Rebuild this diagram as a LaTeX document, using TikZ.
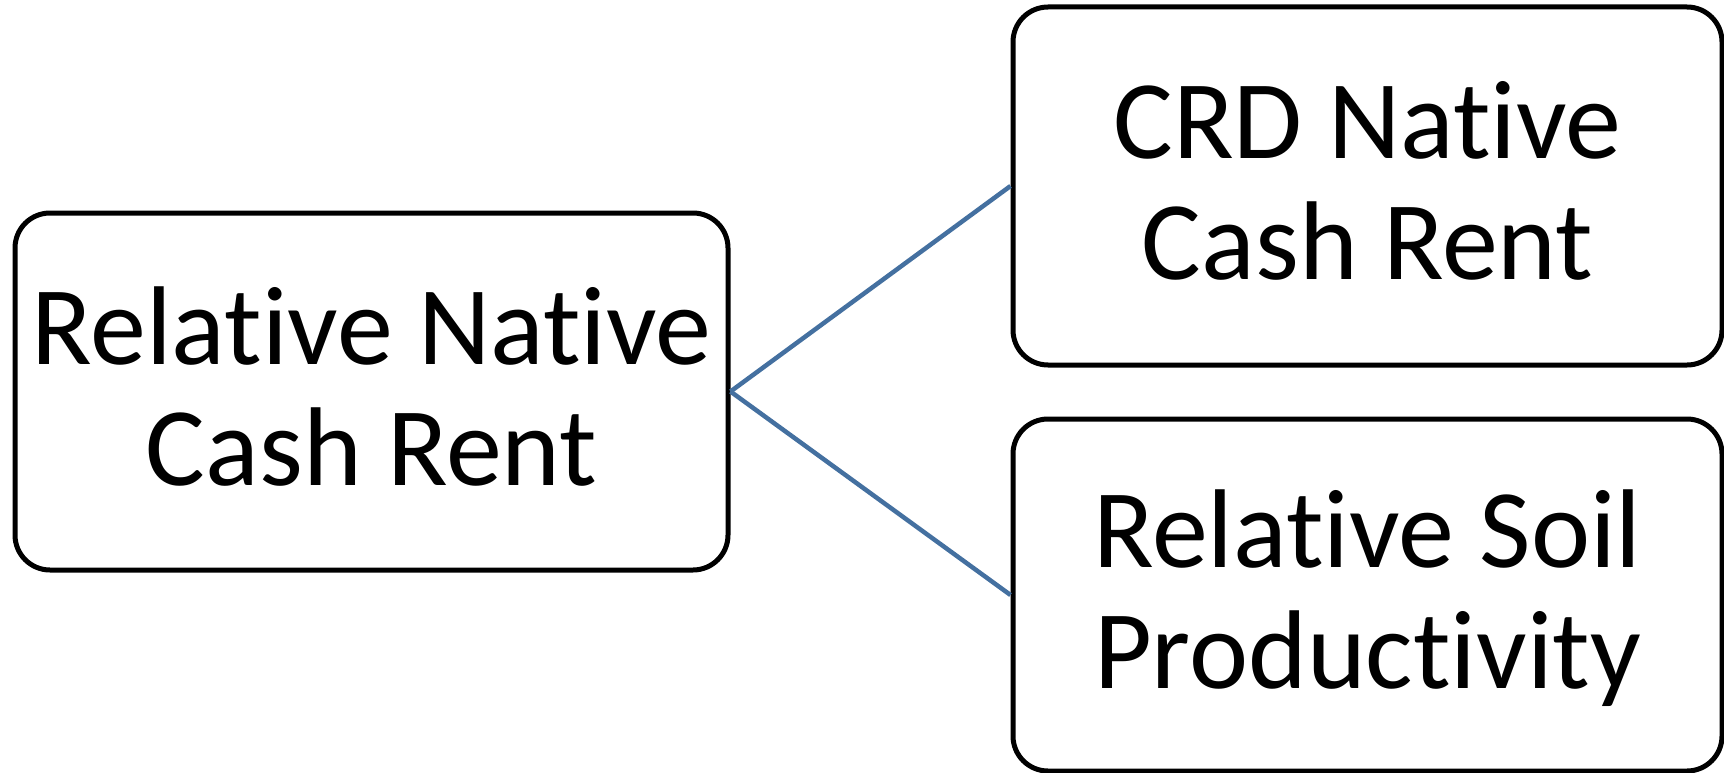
\documentclass[tikz,border=0pt]{standalone}
\usepackage{fontspec}
\setmainfont[Ligatures={NoCommon,NoRequired,NoContextual}]{Carlito}
\definecolor{linkblue}{HTML}{4470A0}
\begin{document}
\begin{tikzpicture}[x=1pt,y=-1pt,
  box/.style={draw=black,line width=5pt,rounded corners=35pt,fill=white,
    inner sep=0pt,align=center,text depth=11pt,font=\fontsize{112}{121}\selectfont},
  link/.style={draw=linkblue,line width=4.5pt}]
\useasboundingbox (0,0) rectangle (1724,773);
\node[box,minimum width=713pt,minimum height=357pt] (left) at (371.5,391.5) {Relative Native\\Cash Rent};
\node[box,minimum width=709pt,minimum height=358pt] (top) at (1367.5,186) {CRD Native\\Cash Rent};
\node[box,minimum width=709pt,minimum height=352pt] (bot) at (1367.5,595) {Relative Soil\\Productivity};
\draw[link] (left.east) -- (top.west);
\draw[link] (left.east) -- (bot.west);
\end{tikzpicture}
\end{document}
